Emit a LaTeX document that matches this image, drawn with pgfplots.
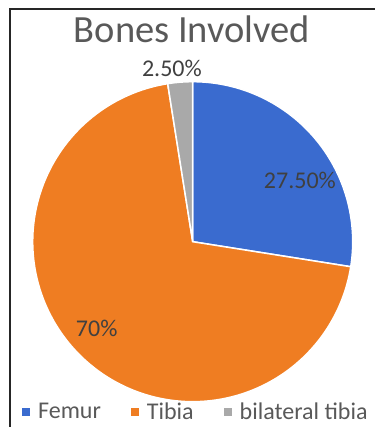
\documentclass[border=0pt]{standalone}
\usepackage{pgfplots}
\usepackage{pgfplotstable}
\usepackage{fontspec}
\setmainfont{Carlito}
\pgfplotsset{compat=1.18}
\definecolor{femur}{HTML}{3A6BCF}
\definecolor{tibia}{HTML}{EF7D22}
\definecolor{bilat}{HTML}{A9A9A9}
\definecolor{titlegray}{HTML}{595959}
\definecolor{labelgray}{HTML}{404040}
\pgfplotstableread{
label value
Femur 27.5
Tibia 70
bilateral 2.5
}\bonesdata
\begin{document}%
\begin{tikzpicture}
\pgfplotstablegetelem{0}{value}\of\bonesdata\let\vA\pgfplotsretval
\pgfplotstablegetelem{1}{value}\of\bonesdata\let\vB\pgfplotsretval
\pgfplotstablegetelem{2}{value}\of\bonesdata\let\vC\pgfplotsretval
\pgfmathsetmacro\aZero{90}
\pgfmathsetmacro\aOne{90-3.6*\vA}
\pgfmathsetmacro\aTwo{\aOne-3.6*\vB}
\pgfmathsetmacro\aThree{\aTwo-3.6*\vC}
\useasboundingbox (0,0) rectangle (374pt,427pt);
\draw[line width=1.3pt, black!85] (376pt,418pt) -- (10pt,418pt) -- (10pt,-2pt);
\node[text=titlegray, font=\fontsize{38.5}{38.5}\selectfont] at (192pt,398pt) {Bones Involved};
\begin{axis}[
  at={(192.7pt,185.3pt)}, anchor=origin,
  scale only axis, width=320pt, height=320pt,
  xmin=-1, xmax=1, ymin=-1, ymax=1,
  hide axis, clip=false,
  legend columns=-1,
  legend image code/.code={\fill[#1, draw=none] (0pt,-4pt) rectangle (8pt,4pt);},
  legend style={draw=none, fill=none, at={(0.51,-0.031)}, anchor=center,
    font=\fontsize{24}{24}\selectfont, text=titlegray,
    /tikz/every odd column/.append style={column sep=6pt},
    /tikz/every even column/.append style={column sep=28pt},
    inner sep=0pt},
]
\addplot[fill=femur, draw=white, line width=1.5pt, domain=\aOne:\aZero, samples=80, variable=\t]
  ({cos(\t)},{sin(\t)}) -- (0,0) -- cycle;
\addlegendentry{Femur}
\addplot[fill=tibia, draw=white, line width=1.5pt, domain=\aTwo:\aOne, samples=160, variable=\t]
  ({cos(\t)},{sin(\t)}) -- (0,0) -- cycle;
\addlegendentry{Tibia}
\addplot[fill=bilat, draw=white, line width=1.5pt, domain=\aThree:\aTwo, samples=10, variable=\t]
  ({cos(\t)},{sin(\t)}) -- (0,0) -- cycle;
\addlegendentry{bilateral tibia}
\node[text=labelgray, font=\fontsize{24}{24}\selectfont] at (axis cs:0.67,0.38) {27.50\%};
\node[text=labelgray, font=\fontsize{24}{24}\selectfont] at (axis cs:-0.60,-0.54) {70\%};
\node[text=labelgray, font=\fontsize{24}{24}\selectfont] at (axis cs:-0.13,1.085) {2.50\%};
\end{axis}
\end{tikzpicture}%
\end{document}
